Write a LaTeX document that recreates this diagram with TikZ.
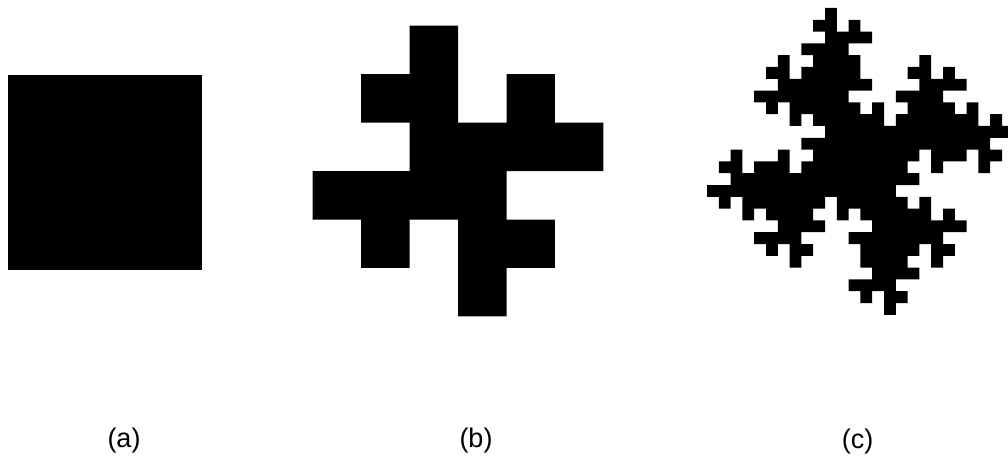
\documentclass[tikz,border=0pt]{standalone}
\usepackage{fontspec}
\setmainfont{Liberation Sans}
\usepackage{tikz}

\def\celdas{2/0,1/1,2/1,4/1,2/2,3/2,4/2,5/2,0/3,1/3,2/3,3/3,1/4,3/4,4/4,3/5}

\begin{document}
\begin{tikzpicture}[x=1pt,y=-1pt]
  \useasboundingbox (0,0) rectangle (1008,457);

  % (a) cuadrado inicial
  \fill (7.5,75) rectangle (201.7,270);

  % (b) primera iteracion
  \fill \foreach \i/\j in \celdas {
    ({312.7+48.45*\i},{25.7+48.45*\j}) rectangle ++(48.45,48.45)
  };

  % (c) segunda iteracion
  \begin{scope}
    \clip (0,0) rectangle (1008,457);
    \fill \foreach \i/\j in \celdas {
      \foreach \k/\l in \celdas {
        ({707+11.8*(4*\i+\k)},{8+11.8*(4*\j+\l)}) rectangle ++(11.8,11.8)
      }
    };
  \end{scope}

  \node[anchor=base,font=\fontsize{27}{32}\selectfont] (lbla) at (124,447.5) {(a)};
  \node[anchor=base,font=\fontsize{27}{32}\selectfont] (lblb) at (476,447.5) {(b)};
  \node[anchor=base,font=\fontsize{27}{32}\selectfont] (lblc) at (857.5,448.5) {(c)};
\end{tikzpicture}
\end{document}
